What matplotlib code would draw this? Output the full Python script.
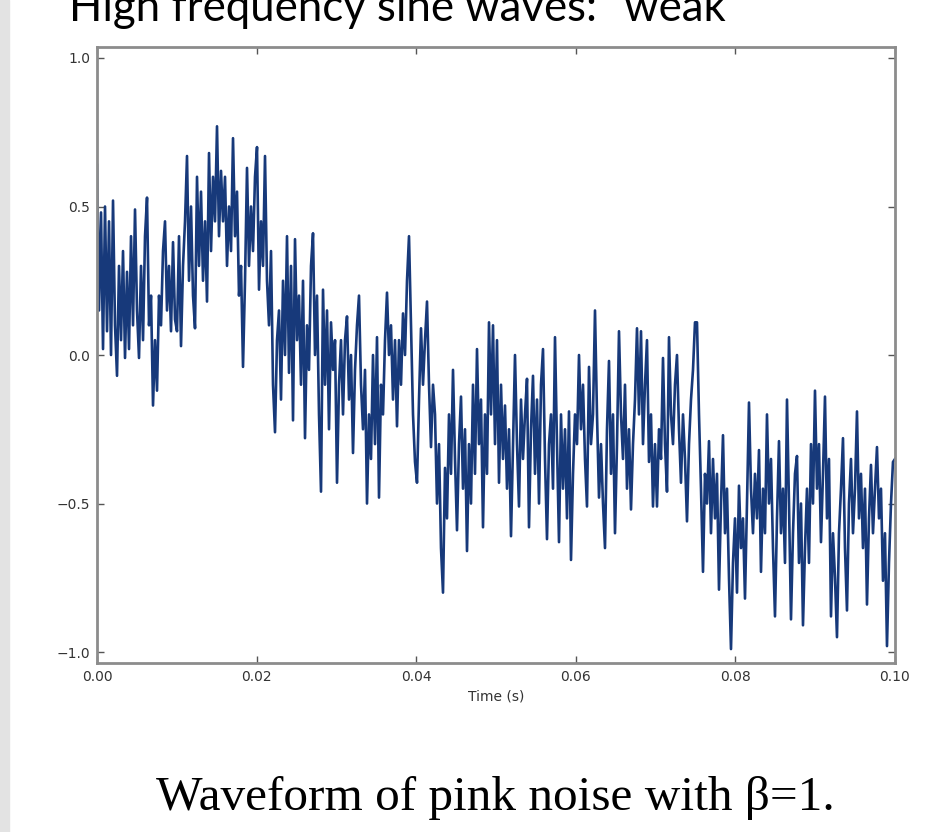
import numpy as np
import matplotlib.pyplot as plt
from matplotlib.patches import Rectangle

# waveform, 400 samples spread evenly over 0..0.1 s
amplitude = [
    0.64, 0.15, 0.48, 0.02, 0.50, 0.08, 0.45, 0.00, 0.52, 0.10,
    -0.07, 0.30, 0.05, 0.35, -0.01, 0.28, 0.02, 0.40, 0.10, 0.49,
    0.15, -0.01, 0.30, 0.05, 0.40, 0.53, 0.10, 0.20, -0.17, 0.05,
    -0.12, 0.20, 0.10, 0.35, 0.45, 0.15, 0.30, 0.08, 0.38, 0.12,
    0.08, 0.40, 0.03, 0.30, 0.45, 0.67, 0.25, 0.50, 0.20, 0.09,
    0.60, 0.30, 0.55, 0.25, 0.45, 0.18, 0.68, 0.35, 0.60, 0.45,
    0.77, 0.40, 0.62, 0.45, 0.60, 0.30, 0.50, 0.35, 0.73, 0.40,
    0.55, 0.20, 0.30, -0.04, 0.25, 0.63, 0.30, 0.50, 0.35, 0.60,
    0.70, 0.22, 0.45, 0.30, 0.67, 0.25, 0.10, 0.35, -0.10, -0.26,
    0.05, 0.15, -0.15, 0.25, 0.00, 0.40, -0.06, 0.30, -0.22, 0.39,
    0.05, 0.20, -0.10, 0.25, -0.28, 0.10, -0.05, 0.30, 0.41, 0.00,
    0.20, -0.20, -0.46, 0.22, -0.10, 0.15, -0.25, 0.11, -0.05, 0.05,
    -0.43, -0.10, 0.05, -0.20, 0.05, 0.13, -0.15, 0.00, -0.33, -0.05,
    0.10, 0.20, -0.10, -0.25, -0.05, -0.50, -0.20, -0.35, 0.00, -0.30,
    0.06, -0.48, -0.10, -0.20, 0.05, 0.21, 0.00, 0.10, -0.15, 0.05,
    -0.24, 0.05, -0.10, 0.14, 0.00, 0.25, 0.40, 0.10, -0.20, -0.36,
    -0.43, -0.15, 0.09, -0.10, 0.05, 0.18, -0.10, -0.31, -0.10, -0.20,
    -0.50, -0.30, -0.65, -0.80, -0.38, -0.55, -0.20, -0.40, -0.05, -0.35,
    -0.59, -0.30, -0.14, -0.45, -0.25, -0.66, -0.30, -0.50, -0.10, -0.40,
    0.02, -0.30, -0.15, -0.58, -0.20, -0.40, 0.11, -0.20, 0.10, -0.30,
    0.05, -0.43, -0.10, -0.35, -0.17, -0.45, -0.25, -0.61, -0.30, 0.00,
    -0.30, -0.51, -0.15, -0.35, -0.20, -0.08, -0.58, -0.25, -0.07, -0.40,
    -0.15, -0.50, -0.10, 0.02, -0.35, -0.62, -0.30, -0.20, -0.45, 0.06,
    -0.30, -0.63, -0.20, -0.45, -0.25, -0.55, -0.19, -0.69, -0.40, -0.20,
    -0.30, 0.00, -0.25, -0.10, -0.35, -0.51, -0.04, -0.30, -0.20, 0.15,
    -0.20, -0.48, -0.30, -0.50, -0.65, -0.25, -0.02, -0.40, -0.20, -0.60,
    -0.30, 0.08, -0.20, -0.35, -0.10, -0.45, -0.25, -0.52, -0.30, -0.15,
    0.09, -0.20, 0.08, -0.30, -0.10, 0.05, -0.36, -0.20, -0.51, -0.30,
    -0.51, -0.25, -0.35, -0.01, -0.30, -0.46, 0.06, -0.20, -0.30, -0.10,
    0.00, -0.25, -0.43, -0.20, -0.35, -0.56, -0.30, -0.15, -0.05, 0.11,
    0.11, -0.20, -0.45, -0.73, -0.40, -0.50, -0.29, -0.60, -0.35, -0.55,
    -0.40, -0.79, -0.50, -0.27, -0.60, -0.45, -0.75, -0.99, -0.70, -0.55,
    -0.80, -0.44, -0.65, -0.55, -0.82, -0.50, -0.16, -0.45, -0.60, -0.40,
    -0.55, -0.32, -0.73, -0.45, -0.60, -0.20, -0.50, -0.35, -0.65, -0.88,
    -0.55, -0.29, -0.60, -0.45, -0.70, -0.15, -0.50, -0.89, -0.60, -0.40,
    -0.34, -0.70, -0.50, -0.91, -0.65, -0.45, -0.70, -0.30, -0.50, -0.12,
    -0.45, -0.30, -0.63, -0.40, -0.14, -0.55, -0.35, -0.88, -0.60, -0.75,
    -0.95, -0.60, -0.45, -0.28, -0.65, -0.86, -0.50, -0.35, -0.60, -0.45,
    -0.19, -0.55, -0.40, -0.65, -0.45, -0.84, -0.55, -0.37, -0.60, -0.45,
    -0.31, -0.55, -0.45, -0.76, -0.60, -0.98, -0.70, -0.50, -0.36, -0.35,
]
x_ticks = [0.00, 0.02, 0.04, 0.06, 0.08, 0.10]
y_ticks = [-1.0, -0.5, 0.0, 0.5, 1.0]
slide_title = "High frequency sine waves: \u201cweak\u201d"
caption = "Waveform of pink noise with \u03b2=1."

time = np.linspace(0, 0.1, len(amplitude))

fig = plt.figure(figsize=(9.41, 8.32), dpi=100)
fig.patch.set_facecolor("white")

# faint grey edge of the slide on the left
fig.patches.append(Rectangle((0, 0), 0.010, 1, transform=fig.transFigure,
                             color="#e3e3e3", zorder=0))

ax = fig.add_axes([0.1031, 0.2031, 0.848, 0.7404])
ax.plot(time, amplitude, color="#17397a", linewidth=1.9)
ax.set_xlim(0, 0.1)
ax.set_ylim(-1.037, 1.037)
ax.set_xticks(x_ticks)
ax.set_yticks(y_ticks)
ax.set_xticklabels([f"{v:.2f}" for v in x_ticks])
ax.set_yticklabels([f"{v:.1f}".replace("-", "\u2212") for v in y_ticks])
ax.tick_params(direction="in", length=5, width=1, color="#555555",
               labelsize=10, labelcolor="#333333", pad=5,
               top=True, right=True)
for side in ax.spines.values():
    side.set_color("#8c8c8c")
    side.set_linewidth(2)
ax.set_xlabel("Time (s)", fontsize=10, color="#333333", labelpad=4)

# slide heading, cut off at the top edge as in the screenshot
fig.text(0.073, 0.9745, slide_title, fontsize=31.5, va="baseline", ha="left",
         family=["Lato", "DejaVu Sans"], color="black")
fig.text(0.526, 0.026, caption, fontsize=35.5, va="baseline", ha="center",
         family=["Liberation Serif", "DejaVu Serif"], color="black")

fig.savefig("out.png", dpi=100)
